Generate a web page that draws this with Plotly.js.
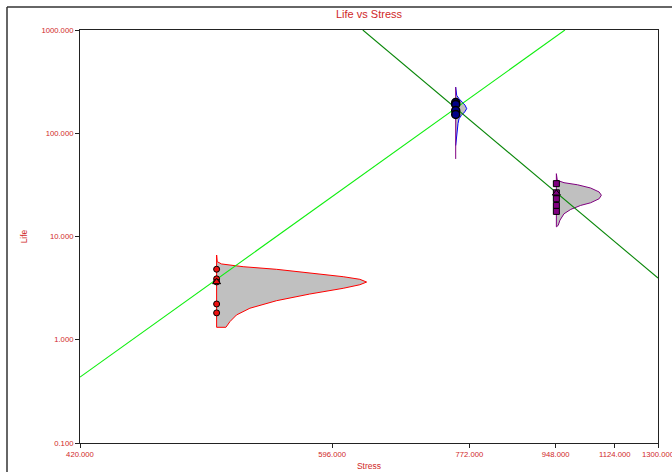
<!DOCTYPE html>
<html>
<head>
<meta charset="utf-8">
<script src="https://cdn.plot.ly/plotly-3.0.1.min.js"></script>
<style>
  html, body { margin: 0; padding: 0; background: #ffffff; }
  #chart { width: 672px; height: 472px; }
</style>
</head>
<body>
<div id="chart"></div>
<script>
// Stress axis ticks (reciprocal stress scale, Arrhenius style)
const stressTicks = [420, 596, 772, 948, 1124, 1300];
const stressTickText = ['420.000', '596.000', '772.000', '948.000', '1124.000', '1300.000'];
const lifeTicks = [0.1, 1, 10, 100, 1000];
const lifeTickText = ['0.100', '1.000', '10.000', '100.000', '1000.000'];

// Observed failures at each stress level
const stressLow = 500;
const lifeLow = [4.82, 3.89, 3.63, 2.22, 1.82];
const lifeLowMark = [3.63];
const stressMid = 750;
const lifeMid = [198, 190, 166, 152];
const stressHigh = 950;
const lifeHigh = [32.5, 26.5, 23.2, 20.0, 17.5];
const lifeHighMark = [26.2];

// Life distribution outlines: life value and relative density
const pdfLowLife = [6.62, 5.70, 5.42, 5.26, 5.10, 4.81, 4.46, 4.08, 3.85, 3.62, 3.41, 3.15, 2.77, 2.39, 2.02, 1.74, 1.50, 1.36, 1.32, 1.32];
const pdfLowDens = [0, 0.004, 0.033, 0.089, 0.177, 0.40, 0.62, 0.844, 0.955, 1.0, 0.955, 0.844, 0.62, 0.40, 0.222, 0.133, 0.089, 0.067, 0.062, 0];
const pdfMidLife = [280, 233, 216, 201, 187, 173, 161, 149, 138, 124, 103, 79.3, 76];
const pdfMidDens = [0, 0.09, 0.30, 0.61, 0.85, 1.0, 0.82, 0.52, 0.30, 0.21, 0.15, 0.06, 0];
const pdfMidStem = [280, 56.4];
const pdfHighLife = [40.6, 35.0, 33.2, 31.7, 29.5, 27.0, 25.1, 23.2, 21.2, 20.0, 18.3, 16.6, 14.4, 12.8, 12.4];
const pdfHighDens = [0, 0.02, 0.17, 0.47, 0.76, 0.95, 1.0, 0.95, 0.76, 0.54, 0.32, 0.17, 0.08, 0.04, 0];

// Fitted life-stress lines
const lineAStress = [420, 972];
const lineALife = [0.435, 1000];
const lineBStress = [628, 1300];
const lineBLife = [1000, 3.96];

const recip = s => 1 / s;
const span = recip(420) - recip(1300);
// peak width of each density outline as a share of the stress axis
const peakShare = { low: 150 / 578, mid: 11 / 578, high: 45 / 578 };

function pdfX(stress, dens, share) {
  return dens.map(d => recip(stress) - d * share * span);
}

const txtRed = '#D02828';
const fontFam = '"Liberation Sans", Arial, sans-serif';

const traces = [
  // density outlines
  { x: pdfX(stressLow, pdfLowDens, peakShare.low), y: pdfLowLife, mode: 'lines', fill: 'toself',
    fillcolor: '#C0C0C0', line: { color: '#FF0000', width: 1 } },
  { x: [recip(stressLow), recip(stressLow)], y: [pdfLowLife[0], pdfLowLife[pdfLowLife.length - 1]],
    mode: 'lines', line: { color: '#FF0000', width: 1 } },
  { x: pdfX(stressMid, pdfMidDens, peakShare.mid), y: pdfMidLife, mode: 'lines', fill: 'toself',
    fillcolor: '#C0C0C0', line: { color: '#0000FF', width: 1 } },
  { x: [recip(stressMid), recip(stressMid)], y: pdfMidStem,
    mode: 'lines', line: { color: '#800080', width: 1 } },
  { x: pdfX(stressHigh, pdfHighDens, peakShare.high), y: pdfHighLife, mode: 'lines', fill: 'toself',
    fillcolor: '#C0C0C0', line: { color: '#800080', width: 1 } },
  { x: [recip(stressHigh), recip(stressHigh)], y: [pdfHighLife[0], pdfHighLife[pdfHighLife.length - 1]],
    mode: 'lines', line: { color: '#800080', width: 1 } },
  // fitted lines
  { x: lineAStress.map(recip), y: lineALife, mode: 'lines', line: { color: '#11EE11', width: 1.1 } },
  { x: lineBStress.map(recip), y: lineBLife, mode: 'lines', line: { color: '#0A870A', width: 1.1 } },
  // failure points
  { x: lifeLow.map(() => recip(stressLow)), y: lifeLow, mode: 'markers',
    marker: { symbol: 'circle', size: 6, color: '#EE1111', line: { color: '#000000', width: 1 } } },
  { x: lifeLowMark.map(() => recip(stressLow)), y: lifeLowMark, mode: 'markers',
    marker: { symbol: 'triangle-up', size: 7, color: '#EE1111', line: { color: '#000000', width: 1 } } },
  { x: lifeMid.map(() => recip(stressMid)), y: lifeMid, mode: 'markers',
    marker: { symbol: 'circle', size: 8, color: '#000088', line: { color: '#000000', width: 1.5 } } },
  { x: lifeHigh.map(() => recip(stressHigh)), y: lifeHigh, mode: 'markers',
    marker: { symbol: 'square', size: 6, color: '#800080', line: { color: '#000000', width: 1 } } },
  { x: lifeHighMark.map(() => recip(stressHigh)), y: lifeHighMark, mode: 'markers',
    marker: { symbol: 'triangle-up', size: 7, color: '#800080', line: { color: '#000000', width: 1 } } }
];

const px = v => (v - 80) / 578;
const py = v => (443 - v) / 413;

const layout = {
  width: 672, height: 472,
  margin: { l: 80, r: 14, t: 30, b: 29, pad: 0 },
  paper_bgcolor: '#ffffff', plot_bgcolor: '#ffffff',
  showlegend: false,
  hovermode: false,
  font: { family: fontFam, color: txtRed, size: 8 },
  title: { text: 'Life vs Stress', font: { family: fontFam, size: 11, color: txtRed },
           x: 0.5, xref: 'paper', xanchor: 'center', y: 1 - 14 / 472, yref: 'container', yanchor: 'middle' },
  xaxis: {
    range: [recip(420), recip(1300)],
    tickvals: stressTicks.map(recip), ticktext: stressTickText,
    tickfont: { family: fontFam, size: 7.7, color: txtRed },
    ticklabeloverflow: 'allow',
    ticks: 'outside', ticklen: 4, tickcolor: '#222222', tickwidth: 1,
    showline: true, mirror: true, linecolor: '#222222', linewidth: 1,
    showgrid: false, zeroline: false,
    title: { text: 'Stress', font: { family: fontFam, size: 8.5, color: txtRed }, standoff: 4 }
  },
  yaxis: {
    type: 'log', range: [-1, 3],
    tickvals: lifeTicks, ticktext: lifeTickText,
    tickfont: { family: fontFam, size: 7.7, color: txtRed },
    ticklabeloverflow: 'allow',
    ticks: 'outside', ticklen: 4, tickcolor: '#222222', tickwidth: 1,
    showline: true, mirror: true, linecolor: '#222222', linewidth: 1,
    showgrid: false, zeroline: false,
    title: { text: 'Life', font: { family: fontFam, size: 8.5, color: txtRed }, standoff: 12 }
  },
  shapes: [
    { type: 'line', xref: 'paper', yref: 'paper', x0: px(7), y0: py(7), x1: px(700), y1: py(7),
      line: { color: '#333333', width: 1.5 } },
    { type: 'line', xref: 'paper', yref: 'paper', x0: px(7), y0: py(7), x1: px(7), y1: py(500),
      line: { color: '#333333', width: 1.5 } }
  ]
};

Plotly.newPlot('chart', traces, layout, { displayModeBar: false, staticPlot: true });
</script>
</body>
</html>
